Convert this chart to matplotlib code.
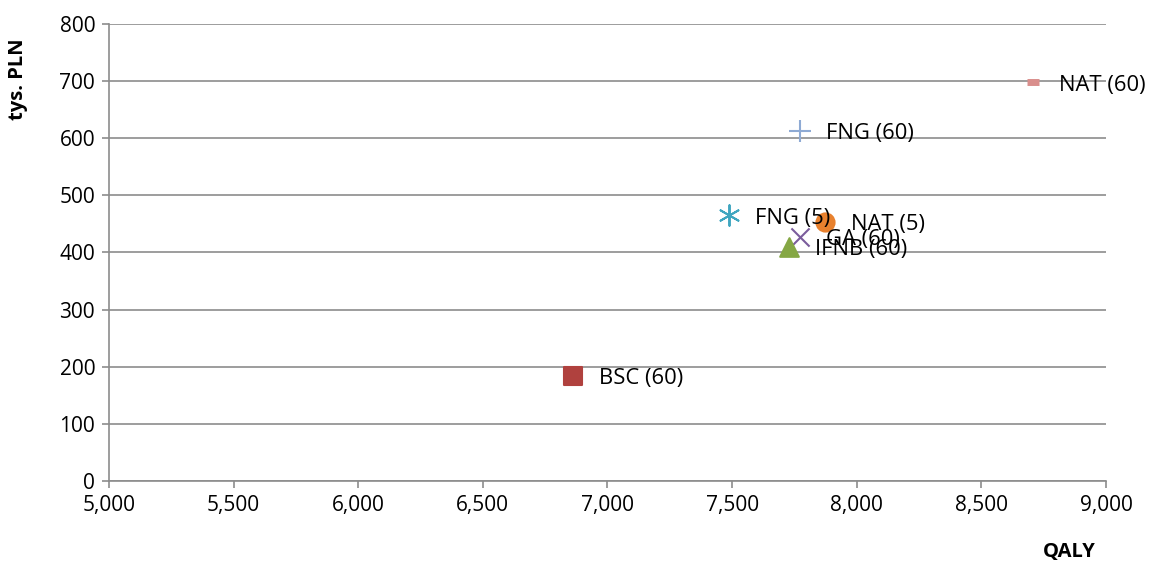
import matplotlib.pyplot as plt

plt.rcParams['font.family'] = ['Open Sans', 'DejaVu Sans']

labels = ['BSC (60)', 'FNG (5)', 'NAT (5)', 'GA (60)', 'IFNB (60)', 'FNG (60)', 'NAT (60)']
qaly = [6862, 7487, 7873, 7772, 7728, 7772, 8707]
cost = [184, 465, 453, 427, 410, 613, 698]
markers = ['s', (6, 2, 0), 'o', 'x', '^', '+', '_']
colors = ['#B0413E', '#3FA6C0', '#E8812E', '#7A5C9C', '#85A744', '#8EAAD4', '#D98E8C']
sizes = [170, 220, 170, 170, 180, 230, 80]
lws = [1.5, 1.4, 1.5, 1.5, 1.5, 1.5, 5]

fig = plt.figure(figsize=(11.5, 5.66), dpi=100)
ax = fig.add_axes([0.0948, 0.1502, 0.8669, 0.8074])

for i in range(len(labels)):
    ax.scatter(qaly[i], cost[i], marker=markers[i], s=sizes[i], color=colors[i],
               linewidths=lws[i], zorder=3)
    ax.annotate(labels[i], (qaly[i], cost[i]), xytext=(18.5, -2),
                textcoords='offset points', fontsize=15.8, va='center',
                color='black', zorder=4)

ax.set_xlim(5000, 9000)
ax.set_ylim(0, 800)
ax.set_xticks(range(5000, 9001, 500))
ax.set_yticks(range(0, 801, 100))
ax.set_xticklabels([f'{v:,}' for v in range(5000, 9001, 500)])
ax.tick_params(labelsize=15, length=5, color='#8C8C8C', width=1.2, pad=5)
ax.yaxis.grid(True, color='#8C8C8C', linewidth=1.2)
ax.set_axisbelow(True)
for s in ['top', 'right']:
    ax.spines[s].set_visible(False)
for s in ['left', 'bottom']:
    ax.spines[s].set_color('#8C8C8C')
    ax.spines[s].set_linewidth(1.2)

fig.text(0.016, 0.86, 'tys. PLN', rotation=90, fontsize=14.5, fontweight='bold',
         ha='center', va='center')
fig.text(0.93, 0.025, 'QALY', fontsize=14.5, fontweight='bold', ha='center', va='center')

fig.savefig('out.png', dpi=100)
